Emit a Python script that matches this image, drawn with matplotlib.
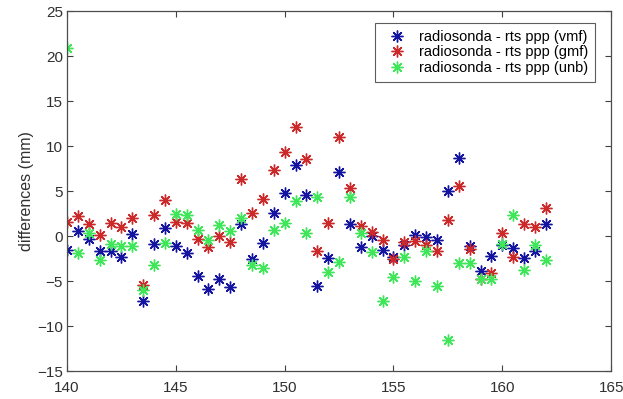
import matplotlib
matplotlib.use("Agg")
import matplotlib.pyplot as plt
import numpy as np

plt.rcParams['font.family'] = ['Liberation Sans', 'DejaVu Sans']

x = [140.0, 140.5, 141.0, 141.5, 142.0, 142.5, 143.0, 143.5, 144.0, 144.5,
     145.0, 145.5, 146.0, 146.5, 147.0, 147.5, 148.0, 148.5, 149.0, 149.5,
     150.0, 150.5, 151.0, 151.5, 152.0, 152.5, 153.0, 153.5, 154.0, 154.5,
     155.0, 155.5, 156.0, 156.5, 157.0, 157.5, 158.0, 158.5, 159.0, 159.5,
     160.0, 160.5, 161.0, 161.5, 162.0]

vmf = [-1.5, 0.6, -0.3, -1.7, -1.6, -2.3, 0.2, -7.2, -0.9, 0.85,
       -1.1, -1.9, -4.4, -5.9, -4.8, -5.7, 1.4, -2.5, -0.8, 2.6,
       4.8, 7.9, 4.6, -5.6, -2.4, 7.1, 1.3, -1.2, 0.0, -1.5,
       -2.3, -1.0, 0.1, -0.1, -0.4, 5.0, 8.7, -1.1, -3.9, -2.2,
       -1.0, -1.3, -2.4, -1.7, 1.4]

gmf = [1.6, 2.2, 1.4, 0.1, 1.5, 1.0, 2.0, -5.4, 2.3, 4.0,
       1.6, 1.5, -0.3, -1.2, 0.0, -0.7, 6.4, 2.6, 4.1, 7.3,
       9.3, 12.1, 8.6, -1.6, 1.5, 11.0, 5.4, 1.1, 0.5, -0.4,
       -2.5, -0.7, -0.5, -1.0, -1.7, 1.8, 5.6, -1.4, -4.8, -4.1,
       0.3, -2.3, 1.3, 1.0, 3.1]

unb = [20.9, -1.9, 0.4, -2.6, -0.9, -1.1, -1.1, -6.0, -3.2, -0.8,
       2.5, 2.3, 0.7, -0.4, 1.2, 0.6, 2.0, -3.2, -3.6, 0.7,
       1.5, 3.9, 0.3, 4.4, -4.0, -2.9, 4.3, 0.3, -1.8, -7.2,
       -4.5, -2.3, -5.0, -1.7, -5.5, -11.5, -3.0, -3.0, -4.8, -4.8,
       -0.9, 2.3, -3.8, -1.0, -2.6]

labels = ['radiosonda - rts ppp (vmf)', 'radiosonda - rts ppp (gmf)',
          'radiosonda - rts ppp (unb)']
colors = ['#1414a0', '#cc2a2a', '#40e65a']

fig = plt.figure(figsize=(6.23, 3.99), dpi=100)
ax = fig.add_axes([0.1075, 0.070, 0.8735, 0.902])

mk = (8, 2, 0)
for ys, c, lab in zip([vmf, gmf, unb], colors, labels):
    ax.plot(x, ys, linestyle='none', marker=mk, markersize=8.5,
            markeredgewidth=1.0, color=c, label=lab)

ax.set_xlim(140, 165)
ax.set_ylim(-15, 25)
ax.set_xticks(np.arange(140, 166, 5))
ax.set_yticks(np.arange(-15, 26, 5))
ax.tick_params(direction='in', length=4, width=0.8, top=True, right=True,
               labelsize=11, colors='#404040', labelcolor='#303030')
ax.tick_params(axis='x', pad=7)
ax.tick_params(axis='y', pad=3)
for s in ax.spines.values():
    s.set_color('#4d4d4d')
    s.set_linewidth(0.9)
ax.set_ylabel('differences (mm)', fontsize=11.5, color='#303030', labelpad=2)

leg = ax.legend(loc='upper right', bbox_to_anchor=(0.9706, 0.9667),
                borderaxespad=0.0, fontsize=10.5,
                frameon=True, fancybox=False, borderpad=0.45,
                handletextpad=0.4, labelspacing=0.12, handlelength=2.2)
leg.get_frame().set_edgecolor('#333333')
leg.get_frame().set_linewidth(0.8)

fig.savefig('out.png', dpi=100)
